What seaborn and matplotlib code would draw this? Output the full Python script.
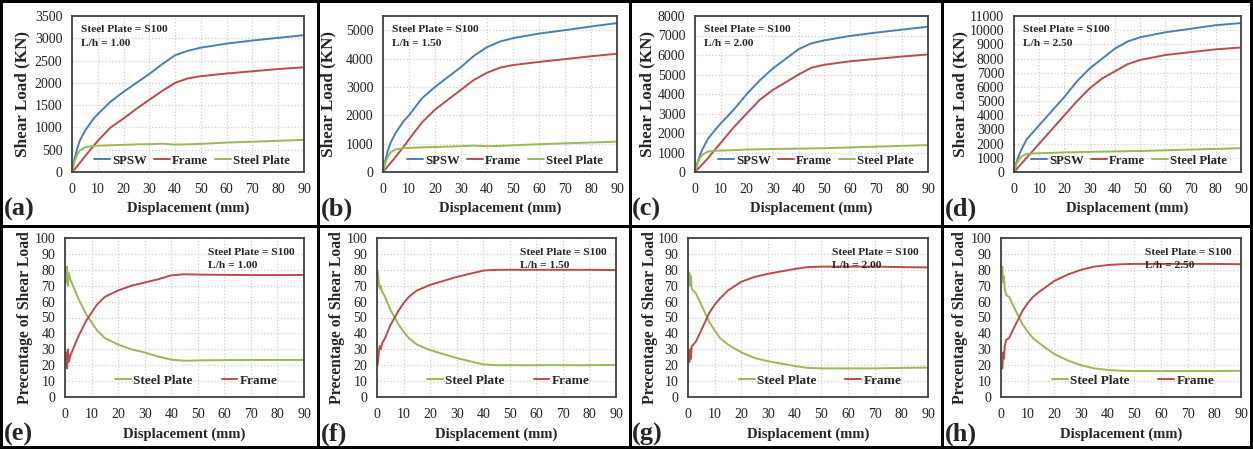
import numpy as np
import pandas as pd
import seaborn as sns
import matplotlib.pyplot as plt
from matplotlib.lines import Line2D

# ---- data ----
disp_top = [0, 1, 2, 3, 5, 8, 10, 15, 20, 25, 30, 35, 40, 45, 50, 60, 70, 80, 90]

spsw_a = [0, 300, 520, 700, 920, 1170, 1300, 1580, 1800, 2000, 2200, 2420, 2620, 2720, 2790, 2880, 2950, 3010, 3070]
frame_a = [0, 60, 130, 200, 350, 560, 700, 1000, 1200, 1420, 1620, 1820, 2000, 2100, 2150, 2210, 2260, 2310, 2350]
plate_a = [0, 240, 390, 480, 550, 585, 590, 600, 610, 620, 625, 635, 615, 620, 630, 660, 680, 700, 720]

spsw_b = [0, 450, 800, 1050, 1400, 1800, 2000, 2600, 3000, 3350, 3700, 4100, 4400, 4600, 4720, 4880, 5000, 5130, 5250]
frame_b = [0, 110, 220, 330, 550, 900, 1150, 1750, 2200, 2550, 2900, 3250, 3500, 3680, 3770, 3880, 3980, 4080, 4170]
plate_b = [0, 350, 560, 700, 800, 840, 850, 870, 880, 895, 910, 930, 910, 920, 940, 980, 1010, 1040, 1070]

spsw_c = [0, 500, 900, 1200, 1700, 2200, 2500, 3200, 4000, 4700, 5300, 5800, 6300, 6600, 6750, 6980, 7150, 7300, 7450]
frame_c = [0, 140, 280, 420, 700, 1200, 1500, 2300, 3000, 3700, 4200, 4600, 5000, 5350, 5500, 5680, 5800, 5920, 6030]
plate_c = [0, 450, 750, 900, 1050, 1090, 1100, 1120, 1150, 1165, 1180, 1190, 1200, 1210, 1220, 1260, 1300, 1340, 1380]

spsw_d = [0, 700, 1200, 1600, 2300, 2900, 3300, 4300, 5300, 6400, 7300, 8000, 8700, 9200, 9500, 9850, 10100, 10350, 10500]
frame_d = [0, 200, 400, 600, 1000, 1600, 2000, 3000, 4000, 5000, 5900, 6600, 7100, 7600, 7900, 8250, 8450, 8650, 8780]
plate_d = [0, 600, 900, 1100, 1280, 1310, 1320, 1350, 1380, 1400, 1420, 1435, 1450, 1465, 1480, 1530, 1580, 1630, 1680]

disp_bot = [0.2, 0.5, 0.8, 1.1, 1.4, 2, 3, 5, 8, 10, 12, 15, 20, 25, 30, 35, 40, 45, 50, 60, 70, 80, 90]

pct_plate_e = [80, 72, 82, 70, 78, 74, 70, 62, 52, 47, 42, 37, 33, 30, 28, 25.5, 23.5, 22.8, 23, 23.2, 23.3, 23.3, 23.3]
pct_frame_e = [20, 28, 18, 30, 22, 26, 30, 38, 48, 53, 58, 63, 67, 70, 72, 74, 76.5, 77.2, 77, 76.8, 76.7, 76.7, 76.7]

pct_plate_f = [80, 76, 70, 68, 70, 66, 63, 55, 46, 41, 37, 33, 29.5, 27, 24.5, 22.5, 20.5, 20, 20, 20, 20, 20, 20.2]
pct_frame_f = [20, 24, 30, 32, 30, 34, 37, 45, 54, 59, 63, 67, 70.5, 73, 75.5, 77.5, 79.5, 80, 80, 80, 80, 80, 79.8]

pct_plate_g = [72, 78, 70, 76, 68, 67, 65, 58, 47, 42, 37, 33, 28, 24.5, 22.5, 21, 19.5, 18.3, 18, 18, 18, 18.3, 18.5]
pct_frame_g = [28, 22, 30, 24, 32, 33, 35, 42, 53, 58, 62, 67, 72.5, 75.5, 77.5, 79, 80.5, 81.7, 82, 82, 82, 81.7, 81.5]

pct_plate_h = [78, 82, 72, 76, 68, 64, 63, 56, 46, 41, 37, 33, 27, 23, 20, 18, 17, 16.5, 16.3, 16.3, 16.3, 16.3, 16.5]
pct_frame_h = [22, 18, 28, 24, 32, 36, 37, 44, 54, 59, 63, 67, 73, 77, 80, 82, 83, 83.5, 83.7, 83.7, 83.7, 83.7, 83.5]

ratios = ["1.00", "1.50", "2.00", "2.50"]
top_ylim = [3500, 5500, 8000, 11000]
top_ystep = [500, 1000, 1000, 1000]
top_letters = ["(a)", "(b)", "(c)", "(d)"]
bot_letters = ["(e)", "(f)", "(g)", "(h)"]

top_series = [(spsw_a, frame_a, plate_a), (spsw_b, frame_b, plate_b),
              (spsw_c, frame_c, plate_c), (spsw_d, frame_d, plate_d)]
bot_series = [(pct_plate_e, pct_frame_e), (pct_plate_f, pct_frame_f),
              (pct_plate_g, pct_frame_g), (pct_plate_h, pct_frame_h)]

c_spsw, c_frame, c_plate = "#4a7ebb", "#be4b48", "#98b954"

# ---- layout (pixels of a 1253x449 canvas) ----
W, H = 1253, 449
top_lr = [(72, 304), (383, 617), (695, 928), (1014, 1241)]
bot_lr = [(65, 304), (377, 616), (688, 928), (1001, 1241)]
top_tb = (16, 172)
bot_tb = (238, 397)
top_ylab_off = [42, 47, 40, 46]
bot_ylab_off = [32, 32, 30, 33]
letter_x = [4, 321, 632, 945]

sns.set_theme(style="whitegrid")
plt.rcParams["font.family"] = ["Liberation Serif", "DejaVu Serif"]

fig = plt.figure(figsize=(W / 100, H / 100), dpi=100)
fig.patch.set_facecolor("white")


def make_ax(lr, tb):
    l, r = lr
    t, b = tb
    return fig.add_axes([l / W, 1 - b / H, (r - l) / W, (b - t) / H])


def style_ax(ax, ymax, ystep, ylabel, ylab_off, width_px, xlab_y):
    ax.set_facecolor("white")
    ax.set_xlim(0, 90)
    ax.set_ylim(0, ymax)
    ax.set_xticks(np.arange(0, 91, 10))
    ax.set_yticks(np.arange(0, ymax + 1, ystep))
    ax.grid(True, color="#cfcfcf", linestyle=":", linewidth=0.9)
    for s in ax.spines.values():
        s.set_color("#404040")
        s.set_linewidth(1.3)
    ax.tick_params(length=0, labelsize=10, colors="#222222")
    ax.tick_params(axis="x", pad=8)
    ax.tick_params(axis="y", pad=7)
    ax.set_xlabel("Displacement (mm)", fontsize=10.5, fontweight="bold")
    ax.set_ylabel(ylabel, fontsize=12.3 if "KN" in ylabel else 11.3, fontweight="bold")
    ax.xaxis.set_label_coords(0.5, xlab_y)
    ax.yaxis.set_label_coords(-ylab_off / width_px, 0.5)


for i in range(4):
    ax = make_ax(top_lr[i], top_tb)
    spsw, frame, plate = top_series[i]
    sns.lineplot(x=disp_top, y=spsw, color=c_spsw, lw=1.4, label="SPSW", ax=ax)
    sns.lineplot(x=disp_top, y=frame, color=c_frame, lw=1.4, label="Frame", ax=ax)
    sns.lineplot(x=disp_top, y=plate, color=c_plate, lw=1.4, label="Steel Plate", ax=ax)
    w = top_lr[i][1] - top_lr[i][0]
    style_ax(ax, top_ylim[i], top_ystep[i], "Shear Load (KN)", top_ylab_off[i], w, -0.19)
    ax.legend(ncol=3, loc="lower right", bbox_to_anchor=(0.96, 0.0), frameon=False,
              handlelength=1.25, handletextpad=0.15, columnspacing=0.55, borderaxespad=0,
              prop={"weight": "bold", "size": 9.2})
    ax.text(9 / w, 0.945, "Steel Plate = S100\nL/h = " + ratios[i], transform=ax.transAxes,
            ha="left", va="top", fontsize=8.2, fontweight="bold", linespacing=1.75)
    fig.text(letter_x[i] / W, 1 - 209 / H, top_letters[i], fontsize=19, fontweight="bold",
             ha="left", va="center")

for i in range(4):
    ax = make_ax(bot_lr[i], bot_tb)
    plate, frame = bot_series[i]
    sns.lineplot(x=disp_bot, y=plate, color=c_plate, lw=1.4, label="Steel Plate", ax=ax)
    sns.lineplot(x=disp_bot, y=frame, color=c_frame, lw=1.4, label="Frame", ax=ax)
    w = bot_lr[i][1] - bot_lr[i][0]
    style_ax(ax, 100, 10, "Precentage of Shear Load", bot_ylab_off[i], w, -0.19)
    ax.legend(ncol=2, loc="lower right", bbox_to_anchor=(0.91, 0.03), frameon=False,
              handlelength=1.2, handletextpad=0.15, columnspacing=2.2, borderaxespad=0,
              prop={"weight": "bold", "size": 9.5})
    ax.text(1 - 9 / w, 0.94, "Steel Plate = S100\nL/h = " + ratios[i], transform=ax.transAxes,
            ha="right", va="top", multialignment="left", fontsize=8.2, fontweight="bold",
            linespacing=1.65)
    fig.text(letter_x[i] / W, 1 - 434 / H, bot_letters[i], fontsize=19, fontweight="bold",
             ha="left", va="center")

# panel frames
lw_px = 3 * 0.72
for x in [318, 630, 942]:
    fig.add_artist(Line2D([x / W, x / W], [0, 1], color="black", lw=lw_px, transform=fig.transFigure))
fig.add_artist(Line2D([0, 1], [1 - 226 / H, 1 - 226 / H], color="black", lw=lw_px, transform=fig.transFigure))
for xs, ys in [([0, 1], [1, 1]), ([0, 1], [0, 0]), ([0, 0], [0, 1]), ([1, 1], [0, 1])]:
    fig.add_artist(Line2D(xs, ys, color="black", lw=lw_px * 2, transform=fig.transFigure))

fig.savefig("out.png", dpi=100)
